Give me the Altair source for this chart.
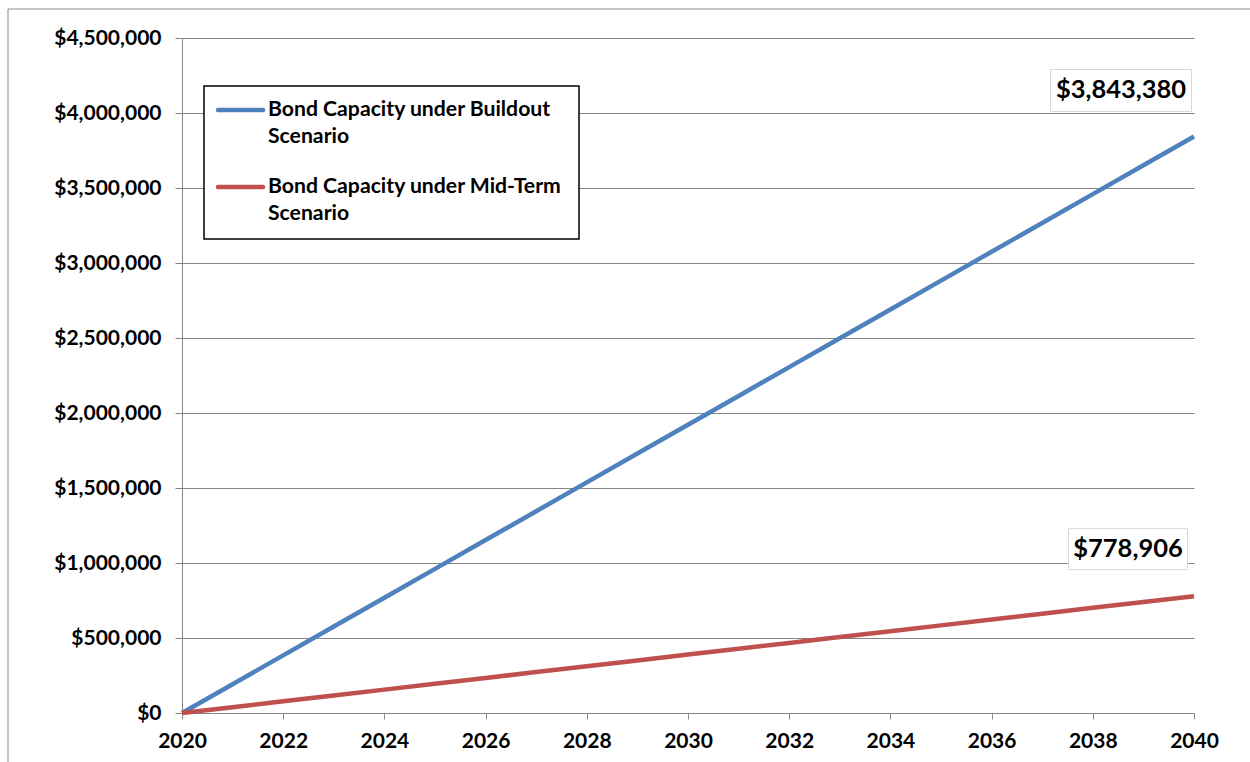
import altair as alt
import pandas as pd

years = list(range(2020, 2041))
buildout = [0, 192169, 384338, 576507, 768676, 960845, 1153014, 1345183, 1537352,
            1729521, 1921690, 2113859, 2306028, 2498197, 2690366, 2882535, 3074704,
            3266873, 3459042, 3651211, 3843380]
midterm = [0, 38945, 77891, 116836, 155781, 194727, 233672, 272617, 311562, 350508,
           389453, 428398, 467344, 506289, 545234, 584180, 623125, 662070, 701015,
           739961, 778906]
series_names = ["Bond Capacity under Buildout Scenario",
                "Bond Capacity under Mid-Term Scenario"]
legend_lines = [["Bond Capacity under Buildout", "Scenario"],
                ["Bond Capacity under Mid-Term", "Scenario"]]
end_labels = ["$3,843,380", "$778,906"]
colors = ["#4F81BD", "#C0504D"]
y_ticks = [0, 500000, 1000000, 1500000, 2000000, 2500000, 3000000, 3500000, 4000000, 4500000]
x_ticks = list(range(2020, 2041, 2))

FONT = "Lato"
rows = []
for y, b, m in zip(years, buildout, midterm):
    rows.append({"year": y, "value": b, "series": series_names[0]})
    rows.append({"year": y, "value": m, "series": series_names[1]})
df = pd.DataFrame(rows)

ends = pd.DataFrame({"year": [2040, 2040], "value": [buildout[-1], midterm[-1]],
                     "label": end_labels, "series": series_names})
one = pd.DataFrame({"k": [0]})

xenc = alt.X("year:Q", scale=alt.Scale(domain=[2020, 2040], nice=False),
             axis=alt.Axis(values=x_ticks, format="d", title=None, grid=False,
                           tickSize=6, labelPadding=11, labelFlush=False,
                           domainColor="#868686", tickColor="#868686"))
yenc = alt.Y("value:Q", scale=alt.Scale(domain=[0, 4500000], nice=False),
             axis=alt.Axis(values=y_ticks, format="$,.0f", title=None, grid=True,
                           gridColor="#868686", gridWidth=1, tickSize=7,
                           labelPadding=14, labelFlush=False,
                           domainColor="#868686", tickColor="#868686"))

border = alt.Chart(one).mark_rect(fillOpacity=0, stroke="#8c8c8c", strokeWidth=1).encode(
    x=alt.value(-174), y=alt.value(-29), x2=alt.value(1100), y2=alt.value(780))

lines = alt.Chart(df).mark_line(strokeWidth=4.5).encode(
    x=xenc, y=yenc,
    color=alt.Color("series:N", scale=alt.Scale(domain=series_names, range=colors), legend=None),
)

layers = [border, lines]
box_specs = [(141, 42, -73, -46), (119, 41, -66, -47)]
for i, (w, h, dx, dy) in enumerate(box_specs):
    d = ends.iloc[[i]]
    layers.append(alt.Chart(d).mark_rect(width=w, height=h, xOffset=dx, yOffset=dy,
                                         fill="white", stroke="#d9d9d9", strokeWidth=1)
                  .encode(x="year:Q", y="value:Q"))
    layers.append(alt.Chart(d).mark_text(dx=dx, dy=dy, font=FONT, fontWeight="bold",
                                         fontSize=25.5, color="black")
                  .encode(x="year:Q", y="value:Q", text="label:N"))

# legend box
layers.append(alt.Chart(one).mark_rect(fill="white", stroke="black", strokeWidth=1.5).encode(
    x=alt.value(22), y=alt.value(48), x2=alt.value(397), y2=alt.value(201)))
for i, ly in enumerate([72, 149]):
    layers.append(alt.Chart(one).mark_rule(strokeWidth=4.5, color=colors[i], strokeCap="round").encode(
        x=alt.value(36), x2=alt.value(81), y=alt.value(ly)))
    for j, txt in enumerate(legend_lines[i]):
        layers.append(alt.Chart(pd.DataFrame({"t": [txt]})).mark_text(
            align="left", baseline="middle", font=FONT, fontWeight="bold", fontSize=21.2,
            color="black").encode(x=alt.value(86), y=alt.value(ly + 27 * j), text="t:N"))

chart = alt.layer(*layers).properties(
    width=1012, height=675,
    autosize=alt.AutoSizeParams(type="none"),
    padding={"left": 182, "top": 38, "right": 56, "bottom": 49},
).configure_view(stroke=None).configure_axis(
    labelFont=FONT, labelFontWeight="bold", labelFontSize=21, labelColor="black"
)

chart.save("out.html", embed_options={"renderer": "svg", "actions": False})
